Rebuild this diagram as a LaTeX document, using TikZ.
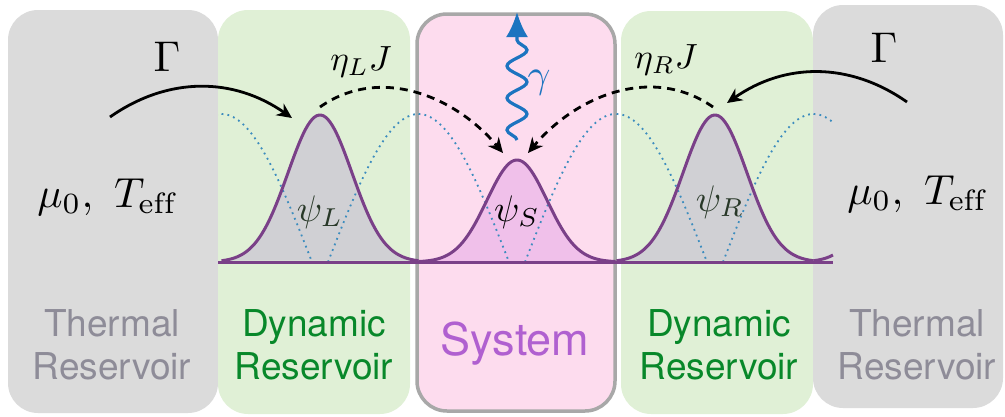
\documentclass[tikz,border=0pt]{standalone}
\usepackage{fontspec}
\setsansfont{TeX Gyre Heros}
\usetikzlibrary{arrows.meta}
\usetikzlibrary{decorations.pathmorphing}

\definecolor{thermgray}{RGB}{219,219,219}
\definecolor{dyngreen}{RGB}{224,240,214}
\definecolor{syspink}{RGB}{253,220,238}
\definecolor{sysedge}{RGB}{168,168,168}
\definecolor{thermtxt}{RGB}{142,140,152}
\definecolor{dyntxt}{RGB}{8,136,42}
\definecolor{systxt}{RGB}{176,96,208}
\definecolor{wfline}{RGB}{122,64,136}
\definecolor{wffill}{RGB}{208,208,212}
\definecolor{wfsys}{RGB}{240,192,234}
\definecolor{modeblue}{RGB}{60,140,190}
\definecolor{photon}{RGB}{28,116,192}
\definecolor{psitxt}{RGB}{40,56,40}

\begin{document}
\begin{tikzpicture}[x=1pt,y=-1pt,
    resbox/.style={rectangle,rounded corners=30pt,inner sep=0pt,outer sep=0pt,anchor=north west},
    thermbox/.style={resbox,fill=thermgray},
    dynbox/.style={resbox,fill=dyngreen},
    sysbox/.style={resbox,fill=syspink,draw=sysedge,line width=3.5pt},
    boxtext/.style={font=\fontsize{37pt}{43pt}\selectfont\sffamily,align=center},
    hop/.style={-{Stealth[length=15pt,width=14pt]},line width=2.8pt},
    coupl/.style={hop,dash pattern=on 8pt off 6pt},
    modeline/.style={modeblue,line width=1.8pt,dash pattern=on 1.8pt off 4.2pt},
    wf/.style={wfline,line width=3pt}]

  \useasboundingbox (0,0) rectangle (1005,416);

  % Reservoirs and system
  \node[thermbox,minimum width=210pt,minimum height=403pt] (thL) at (8,10) {};
  \node[dynbox,minimum width=192pt,minimum height=404pt] (dynL) at (218,10) {};
  \node[sysbox,minimum width=198pt,minimum height=397pt] (sys) at (417,14) {};
  \node[dynbox,minimum width=192pt,minimum height=403pt] (dynR) at (621,11) {};
  \node[thermbox,minimum width=190pt,minimum height=403pt] (thR) at (813,5) {};

  % Wave packets (fill)
  \foreach \c/\h/\s/\col in {320/147/32/wffill,517/102/30/wfsys,715/147/32/wffill} {
    \pgfmathsetmacro\lo{\c-98.5}
    \pgfmathsetmacro\hi{\c+98.5}
    \fill[\col] plot[domain=\lo:\hi,samples=90] (\x,{262-\h*exp(-0.5*((\x-\c)/\s)^2)});
  }

  % Mode profiles
  \begin{scope}
    \clip (218,0) rectangle (833,416);
    \foreach \c in {123,320,517,715,912} {
      \pgfmathsetmacro\lo{\c-98.5}
      \pgfmathsetmacro\hi{\c+98.5}
      \draw[modeline] plot[domain=\lo:\c-8,samples=40] (\x,{262-148*sin(90*(\c-8-\x)/90.5)});
      \draw[modeline] plot[domain=\c+8:\hi,samples=40] (\x,{262-148*sin(90*(\x-\c-8)/90.5)});
    }
  \end{scope}

  % Wave packets (outline)
  \foreach \c/\h/\s in {320/147/32,517/102/30,715/147/32} {
    \pgfmathsetmacro\lo{\c-98.5}
    \pgfmathsetmacro\hi{\c+98.5}
    \draw[wf] plot[domain=\lo:\hi,samples=90] (\x,{262-\h*exp(-0.5*((\x-\c)/\s)^2)});
  }
  \draw[wf] plot[domain=813.5:833,samples=10] (\x,{262-147*exp(-0.5*((\x-912)/32)^2)});
  \draw[wf] (218,262) -- (833,262);

  % Labels
  \node[boxtext,text=thermtxt] (thLtxt) at (112,345) {Thermal\\Reservoir};
  \node[boxtext,text=dyntxt] (dynLtxt) at (314,345) {Dynamic\\Reservoir};
  \node[boxtext,text=systxt,anchor=base,font=\fontsize{45pt}{52pt}\selectfont\sffamily] (systxt) at (515,355) {System};
  \node[boxtext,text=dyntxt] (dynRtxt) at (719,345) {Dynamic\\Reservoir};
  \node[boxtext,text=thermtxt] (thRtxt) at (917,345) {Thermal\\Reservoir};

  \node[scale=4.2] (envL) at (107,197) {$\mu_0,\ T_{\mathrm{eff}}$};
  \node[scale=4.2] (envR) at (917,194) {$\mu_0,\ T_{\mathrm{eff}}$};
  \node[scale=4.3] (gamL) at (167,57) {$\Gamma$};
  \node[scale=4.3] (gamR) at (884,48) {$\Gamma$};
  \node[scale=3.5] (etaL) at (361,62) {$\eta_L J$};
  \node[scale=3.5] (etaR) at (666,60) {$\eta_R J$};
  \node[scale=3.7,text=psitxt] (psiL) at (320,212) {$\psi_L$};
  \node[scale=3.7] (psiS) at (517,212) {$\psi_S$};
  \node[scale=3.7,text=psitxt] (psiR) at (720,202) {$\psi_R$};
  \node[scale=4.0,text=photon] (gam) at (539,83) {$\gamma$};

  % Arrows
  \coordinate (inL) at (110,117);
  \coordinate (pkL) at (292,118);
  \coordinate (inR) at (907,102);
  \coordinate (pkR) at (727,103);
  \coordinate (cpL) at (320,107);
  \coordinate (cpR) at (713,107);
  \coordinate (sysL) at (503,153);
  \coordinate (sysR) at (528,153);
  \coordinate (emit) at (517,140);
  \coordinate (out) at (517,12);

  \draw[hop] (inL) to[out=35,in=145] (pkL);
  \draw[hop] (inR) to[out=145,in=35] (pkR);
  \draw[coupl] (cpL) to[out=35,in=130] (sysL);
  \draw[coupl] (cpR) to[out=145,in=50] (sysR);
  \draw[photon,line width=3.2pt,-{Latex[length=25pt,width=22pt]},
    decorate,decoration={snake,amplitude=10pt,segment length=32pt,post length=27pt}]
    (emit) -- (out);
\end{tikzpicture}
\end{document}
